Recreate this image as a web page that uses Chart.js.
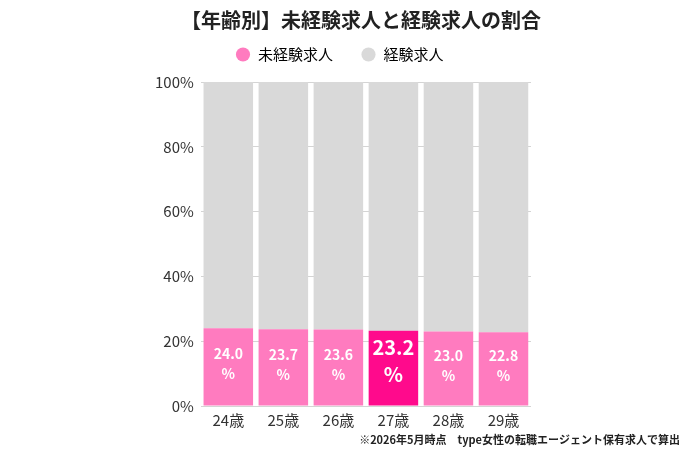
<!DOCTYPE html>
<html lang="ja">
<head>
<meta charset="utf-8">
<script src="https://cdn.jsdelivr.net/npm/chart.js@4/dist/chart.umd.min.js"></script>
<style>
    html, body { margin: 0; padding: 0; background: #fff; }
    #wrap { width: 700px; height: 450px; }
</style>
</head>
<body>
<div id="wrap"><canvas id="age-chart"></canvas></div>
<script>
// chart values
const categories = ['24歳', '25歳', '26歳', '27歳', '28歳', '29歳'];
const inexperienced = [24.0, 23.7, 23.6, 23.2, 23.0, 22.8];
const experienced = [76.0, 76.3, 76.4, 76.8, 77.0, 77.2];
const yTicks = [0, 20, 40, 60, 80, 100];
const highlightIndex = 3;

const titleText = '【年齢別】未経験求人と経験求人の割合';
const noteText = '※2026年5月時点　type女性の転職エージェント保有求人で算出';

const FONT = "'Noto Sans CJK JP', 'Noto Sans', sans-serif";
const PINK = '#ff7bbf';
const PINK_HL = '#ff0a8c';
const GREY = '#d9d9d9';

// extra room under the legend
const legendSpacer = {
    id: 'legendSpacer',
    beforeInit(chart) {
        const fit = chart.legend.fit;
        chart.legend.fit = function () {
            fit.call(this);
            this.height += 10;
        };
    }
};

// value labels inside the pink bars + title and footnote
const labelPlugin = {
    id: 'valueLabels',
    afterDatasetsDraw(chart) {
        const ctx = chart.ctx;
        const meta = chart.getDatasetMeta(0);
        ctx.save();
        ctx.fillStyle = '#fff';
        ctx.textAlign = 'center';
        ctx.textBaseline = 'middle';
        meta.data.forEach((bar, i) => {
            const mid = (bar.y + bar.base) / 2;
            const big = i === highlightIndex;
            ctx.font = `bold ${big ? 20 : 14}px ${FONT}`;
            ctx.fillText(inexperienced[i].toFixed(1), bar.x, mid + (big ? -21 : -13));
            ctx.fillText('%', bar.x, mid + (big ? 6 : 7));
        });
        ctx.restore();
    },
    afterDraw(chart) {
        const ctx = chart.ctx;
        ctx.save();
        ctx.fillStyle = '#222';
        ctx.textBaseline = 'middle';
        ctx.textAlign = 'center';
        ctx.font = `bold 20px ${FONT}`;
        ctx.fillText(titleText, 361, 20);
        ctx.textAlign = 'right';
        ctx.font = `bold 11px ${FONT}`;
        ctx.fillText(noteText, 680, 440);
        ctx.restore();
    }
};

const ctx = document.getElementById('age-chart').getContext('2d');
new Chart(ctx, {
    type: 'bar',
    data: {
        labels: categories,
        datasets: [{
            label: '未経験求人',
            data: inexperienced,
            backgroundColor: categories.map((c, i) => i === highlightIndex ? PINK_HL : PINK),
            borderWidth: 0,
            barPercentage: 0.9,
            categoryPercentage: 1.0
        }, {
            label: '経験求人',
            data: experienced,
            backgroundColor: GREY,
            borderWidth: 0,
            barPercentage: 0.9,
            categoryPercentage: 1.0
        }]
    },
    options: {
        responsive: true,
        maintainAspectRatio: false,
        animation: false,
        layout: {
            padding: { left: 148, right: 169, top: 19, bottom: 16 }
        },
        plugins: {
            legend: {
                position: 'top',
                labels: {
                    usePointStyle: true,
                    pointStyle: 'circle',
                    boxWidth: 15,
                    boxHeight: 10,
                    padding: 28,
                    color: '#333',
                    font: { family: FONT, size: 15 },
                    generateLabels(chart) {
                        return [
                            { text: '未経験求人', fillStyle: PINK, strokeStyle: PINK, lineWidth: 0, pointStyle: 'circle', datasetIndex: 0 },
                            { text: '経験求人', fillStyle: GREY, strokeStyle: GREY, lineWidth: 0, pointStyle: 'circle', datasetIndex: 1 }
                        ];
                    }
                }
            },
            title: { display: false },
            tooltip: { enabled: false }
        },
        scales: {
            x: {
                stacked: true,
                grid: { display: false, drawTicks: false },
                border: { display: false },
                ticks: {
                    color: '#333',
                    padding: 5,
                    font: { family: FONT, size: 15 }
                }
            },
            y: {
                stacked: true,
                min: 0,
                max: 100,
                afterBuildTicks(scale) {
                    scale.ticks = yTicks.map(v => ({ value: v }));
                },
                grid: { color: '#d4d4d4', drawTicks: false },
                border: { display: false },
                ticks: {
                    color: '#333',
                    padding: 7,
                    font: { family: FONT, size: 15 },
                    callback: v => v + '%'
                }
            }
        }
    },
    plugins: [legendSpacer, labelPlugin]
});
</script>
</body>
</html>
